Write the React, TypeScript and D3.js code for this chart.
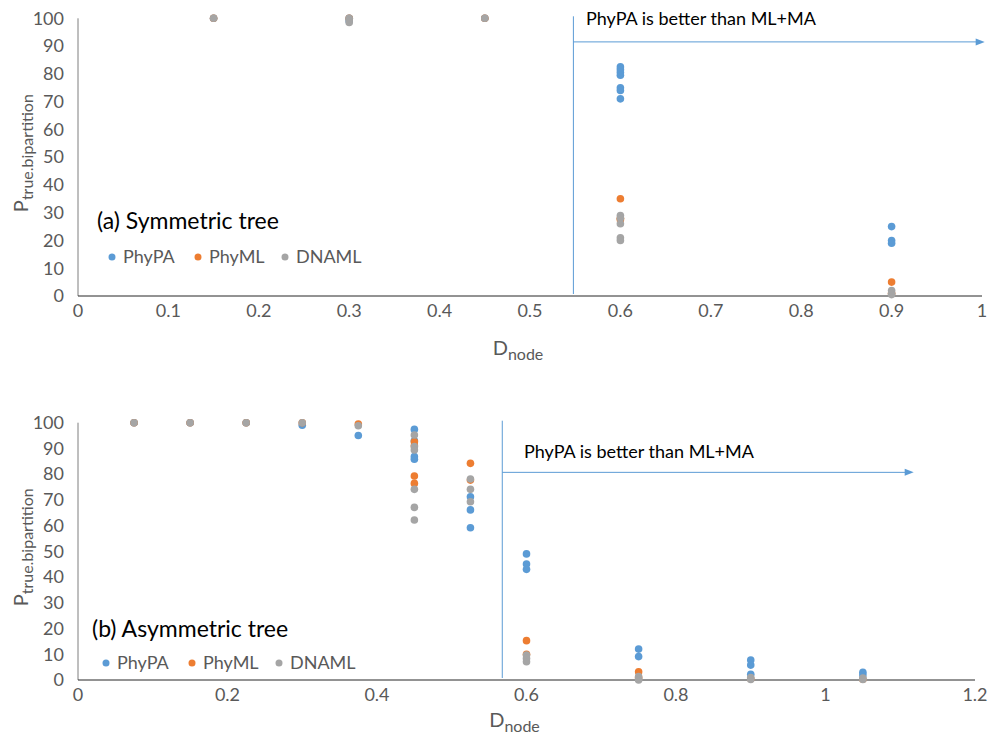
import React from "react";
import * as d3 from "d3";

type Pt = [number, number];

// panel (a): symmetric tree
const symPhyPA: Pt[] = [
  [0.15, 100], [0.3, 100], [0.3, 99], [0.45, 100],
  [0.6, 82.5], [0.6, 81.5], [0.6, 80.5], [0.6, 79.5], [0.6, 75], [0.6, 74], [0.6, 71],
  [0.9, 25], [0.9, 20], [0.9, 19],
];
const symPhyML: Pt[] = [
  [0.15, 100], [0.3, 100], [0.45, 100],
  [0.6, 35], [0.6, 28], [0.6, 27.5],
  [0.9, 5], [0.9, 1],
];
const symDNAML: Pt[] = [
  [0.15, 100], [0.3, 100], [0.3, 99.5], [0.3, 98.5], [0.45, 100],
  [0.6, 29], [0.6, 28], [0.6, 26], [0.6, 21], [0.6, 20],
  [0.9, 2], [0.9, 1], [0.9, 0.5],
];

// panel (b): asymmetric tree
const asymPhyPA: Pt[] = [
  [0.075, 100], [0.15, 100], [0.225, 100], [0.3, 99], [0.375, 95],
  [0.45, 97.4], [0.45, 93], [0.45, 86.8], [0.45, 85.8],
  [0.525, 71.2], [0.525, 66.1], [0.525, 59.2],
  [0.6, 49], [0.6, 45.1], [0.6, 43],
  [0.75, 12], [0.75, 9.1],
  [0.9, 7.8], [0.9, 5.8], [0.9, 2.2],
  [1.05, 3], [1.05, 1.9],
];
const asymPhyML: Pt[] = [
  [0.075, 100], [0.15, 100], [0.225, 100], [0.3, 100], [0.375, 99.5],
  [0.45, 92.6], [0.45, 91], [0.45, 79.3], [0.45, 76.4],
  [0.525, 84.2], [0.525, 77.7],
  [0.6, 15.3], [0.6, 10],
  [0.75, 3.2], [0.75, 1],
  [0.9, 0.5], [1.05, 0.3],
];
const asymDNAML: Pt[] = [
  [0.075, 100], [0.15, 100], [0.225, 100], [0.3, 100], [0.375, 98.8],
  [0.45, 95.2], [0.45, 90.7], [0.45, 89.4], [0.45, 74.1], [0.45, 67.1], [0.45, 62.2],
  [0.525, 78.1], [0.525, 74.1], [0.525, 69.3],
  [0.6, 9.7], [0.6, 8.4], [0.6, 7.1],
  [0.75, 1.3], [0.75, 0.5], [0.75, 0],
  [0.9, 1], [0.9, 0.2],
  [1.05, 0.8], [1.05, 0.2],
];

const seriesNames = ["PhyPA", "PhyML", "DNAML"];
const seriesColors = ["#5B9BD5", "#ED7D31", "#A5A5A5"];
const yTicks = d3.range(0, 101, 10);
const symXTicks = d3.range(0, 11).map((i) => i / 10);
const asymXTicks = d3.range(0, 7).map((i) => i / 5);

const FONT = "Lato, 'Open Sans', sans-serif";

type PanelProps = {
  top: number;
  bottom: number;
  xMax: number;
  xRight: number;
  xTicks: number[];
  series: Pt[][];
  title: string;
  titleX: number;
  titleY: number;
  legendX: number[];
  legendY: number;
  splitX: number;
  arrowY: number;
  arrowEnd: number;
  noteX: number;
  noteY: number;
  xLabelY: number;
};

const Panel = (p: PanelProps) => {
  const left = 78;
  const x = d3.scaleLinear().domain([0, p.xMax]).range([left, p.xRight]);
  const y = d3.scaleLinear().domain([0, 100]).range([p.bottom, p.top]);
  const splitPx = x(p.splitX);
  const arrowPx = y(p.arrowY);
  const endPx = x(p.arrowEnd);
  return (
    <g>
      {/* y axis */}
      <line x1={left} x2={left} y1={y(0)} y2={y(100)} stroke="#7f7f7f" strokeWidth={1} />
      {yTicks.map((t) => (
        <text key={t} x={64} y={y(t)} dy="0.35em" textAnchor="end" fontSize={18} fill="#595959" fontFamily={FONT}>
          {t}
        </text>
      ))}
      {/* x axis */}
      <line x1={left} x2={p.xRight} y1={y(0)} y2={y(0)} stroke="#262626" strokeWidth={1} />
      {p.xTicks.map((t) => (
        <text key={t} x={x(t)} y={y(0) + 21} textAnchor="middle" fontSize={18} fill="#595959" fontFamily={FONT}>
          {d3.format("~g")(t)}
        </text>
      ))}
      {/* axis titles */}
      <text
        transform={`translate(28,${(p.top + p.bottom) / 2 - 4}) rotate(-90)`}
        textAnchor="middle"
        fontSize={20}
        fill="#595959"
        fontFamily={FONT}
      >
        P<tspan fontSize={16} dy={5}>true.bipartition</tspan>
      </text>
      <text x={x(p.xMax / 2) - 12} y={p.xLabelY} textAnchor="middle" fontSize={20} fill="#595959" fontFamily={FONT}>
        D<tspan fontSize={16} dy={5}>node</tspan>
      </text>
      {/* split line and arrow */}
      <line x1={splitPx} x2={splitPx} y1={y(0) - 2} y2={p.top - 2} stroke="#5B9BD5" strokeWidth={1} />
      <line x1={splitPx} x2={endPx - 8} y1={arrowPx} y2={arrowPx} stroke="#5B9BD5" strokeWidth={1} />
      <path d={`M${endPx},${arrowPx}L${endPx - 9},${arrowPx - 3.5}L${endPx - 9},${arrowPx + 3.5}Z`} fill="#5B9BD5" />
      <text x={p.noteX} y={p.noteY} fontSize={18} fill="#000" fontFamily={FONT}>
        PhyPA is better than ML+MA
      </text>
      {/* points */}
      {p.series.map((s, i) => (
        <g key={i}>
          {s.map((d, j) => (
            <circle key={j} cx={x(d[0])} cy={y(d[1])} r={3.8} fill={seriesColors[i]} />
          ))}
        </g>
      ))}
      {/* title and legend */}
      <text x={p.titleX} y={p.titleY} fontSize={23} fill="#000" fontFamily={FONT}>
        {p.title}
      </text>
      {seriesNames.map((n, i) => (
        <g key={n}>
          <circle cx={p.legendX[i]} cy={p.legendY} r={3.5} fill={seriesColors[i]} />
          <text x={p.legendX[i] + 11} y={p.legendY} dy="0.35em" fontSize={18} fill="#595959" fontFamily={FONT}>
            {n}
          </text>
        </g>
      ))}
    </g>
  );
};

export default function App() {
  return (
    <svg width={989} height={737} style={{ position: "absolute", left: 0, top: 0, background: "#fff" }}>
      <Panel
        top={18.3}
        bottom={296}
        xMax={1}
        xRight={982}
        xTicks={symXTicks}
        series={[symPhyPA, symPhyML, symDNAML]}
        title="(a) Symmetric tree"
        titleX={97}
        titleY={229}
        legendX={[112, 198, 285]}
        legendY={257}
        splitX={0.548}
        arrowY={91.5}
        arrowEnd={1.003}
        noteX={586}
        noteY={25}
        xLabelY={355}
      />
      <Panel
        top={422.7}
        bottom={680}
        xMax={1.2}
        xRight={975}
        xTicks={asymXTicks}
        series={[asymPhyPA, asymPhyML, asymDNAML]}
        title="(b) Asymmetric tree"
        titleX={92}
        titleY={637}
        legendX={[106, 192, 279]}
        legendY={663}
        splitX={0.5676}
        arrowY={80.7}
        arrowEnd={1.118}
        noteX={524}
        noteY={458}
        xLabelY={727}
      />
    </svg>
  );
}
